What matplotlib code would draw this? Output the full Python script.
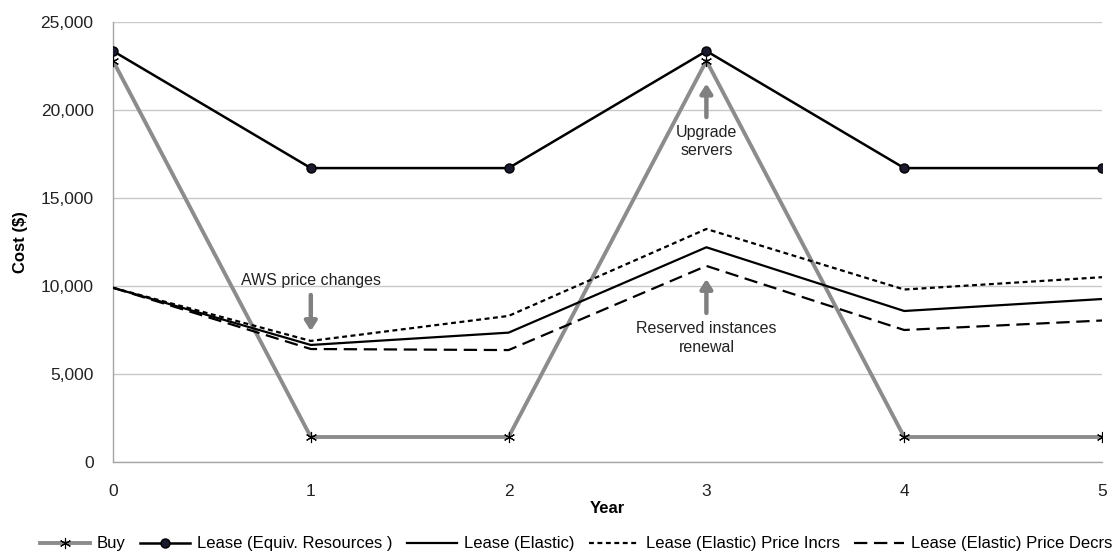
import matplotlib
matplotlib.use("Agg")
import matplotlib.pyplot as plt
from matplotlib.ticker import FuncFormatter, MultipleLocator

plt.rcParams['font.family'] = ['Liberation Sans', 'DejaVu Sans']

years = [0, 1, 2, 3, 4, 5]
buy = [22800, 1420, 1420, 22800, 1420, 1420]
lease_equiv = [23350, 16700, 16700, 23350, 16700, 16700]
lease_elastic = [9900, 6650, 7350, 12200, 8580, 9260]
lease_incrs = [9900, 6880, 8300, 13240, 9800, 10500]
lease_decrs = [9900, 6420, 6360, 11140, 7500, 8040]

fig = plt.figure(figsize=(11.19, 5.52), dpi=100)
ax = fig.add_axes([113 / 1119, 1 - 462 / 552, (1102 - 113) / 1119, (462 - 22) / 552])

gray = '#8c8c8c'
ax.plot(years, buy, color=gray, lw=2.8, marker=(6, 2, 0), ms=8, mec='black', mew=0.8,
        label='Buy', zorder=3)
ax.plot(years, lease_equiv, color='black', lw=1.8, marker='o', ms=6.5,
        mfc='#1a1a2e', mec='black', label='Lease (Equiv. Resources )', zorder=4)
ax.plot(years, lease_elastic, color='black', lw=1.6, label='Lease (Elastic)', zorder=3)
ax.plot(years, lease_incrs, color='black', lw=1.6, dashes=(2.2, 1.6),
        label='Lease (Elastic) Price Incrs', zorder=3)
ax.plot(years, lease_decrs, color='black', lw=1.6, dashes=(6, 3),
        label='Lease (Elastic) Price Decrs', zorder=3)

ax.set_xlim(0, 5)
ax.set_ylim(0, 25000)
ax.yaxis.set_major_locator(MultipleLocator(5000))
ax.yaxis.set_major_formatter(FuncFormatter(lambda v, p: f'{int(v):,}'))
ax.set_xticks(years)
ax.grid(axis='y', color='#c8c8c8', lw=1.0)
ax.set_axisbelow(True)
for s in ['top', 'right']:
    ax.spines[s].set_visible(False)
for s in ['left', 'bottom']:
    ax.spines[s].set_color('#a6a6a6')
    ax.spines[s].set_linewidth(1.0)
ax.tick_params(axis='both', length=0, labelsize=12.5, colors='#404040', labelcolor='#222222')
ax.tick_params(axis='y', pad=14)
ax.tick_params(axis='x', pad=16)
ax.set_xlabel('Year', fontsize=12, fontweight='bold', labelpad=1)
ax.set_ylabel('Cost ($)', fontsize=12, fontweight='bold', labelpad=9)

arrow_kw = dict(arrowstyle='-|>,head_width=0.35,head_length=0.55', color='#808080', lw=3.2,
                shrinkA=0, shrinkB=0)
ax.annotate('', xy=(1, 7440), xytext=(1, 9490), arrowprops=arrow_kw, zorder=5)
ax.text(1, 10340, 'AWS price changes', ha='center', va='center', fontsize=11.5, color='#222222')
ax.annotate('', xy=(3, 21500), xytext=(3, 19600), arrowprops=arrow_kw, zorder=5)
ax.text(3, 18200, 'Upgrade\nservers', ha='center', va='center', fontsize=11.5,
        color='#222222', linespacing=1.3)
ax.annotate('', xy=(3, 10400), xytext=(3, 8470), arrowprops=arrow_kw, zorder=5)
ax.text(3, 7050, 'Reserved instances\nrenewal', ha='center', va='center', fontsize=11.5,
        color='#222222', linespacing=1.3)

handles, labels = ax.get_legend_handles_labels()
fig.legend(handles, labels, loc='center', bbox_to_anchor=(0.03, 0.0, 0.97, 0.029),
           ncol=5, mode='expand', frameon=False, fontsize=12, handlelength=3.0,
           handletextpad=0.4, borderaxespad=0)

fig.savefig('out.png', dpi=100)
